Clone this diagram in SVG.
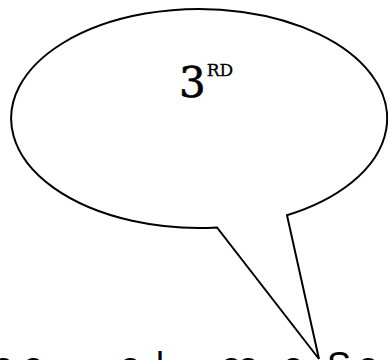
<svg xmlns="http://www.w3.org/2000/svg" width="388" height="360" viewBox="0 0 388 360">
  <style>
    .bubble { fill: #ffffff; stroke: #000000; stroke-width: 2; stroke-linejoin: miter; }
    .num { font-family: "DejaVu Serif", "Liberation Serif", serif; fill: #000000; }
    .under { font-family: "Liberation Sans", "DejaVu Sans", sans-serif; font-size: 36px; fill: #000000; }
  </style>
  <rect width="388" height="360" fill="#ffffff"/>
  <g id="callout">
    <path class="bubble" d="M217,227.5 A188,109.5 0 1 1 287,215.3 L319,359 Z"/>
    <text class="num" x="179" y="97" font-size="42" stroke="#000" stroke-width="0.6">3<tspan font-size="17" dy="-21" dx="1" stroke-width="0.3">RD</tspan></text>
  </g>
  <g id="caption">
    <text class="under" x="-7 23 120 156 221 238 283 327 358" y="377.5">oooloooSo</text>
  </g>
</svg>
